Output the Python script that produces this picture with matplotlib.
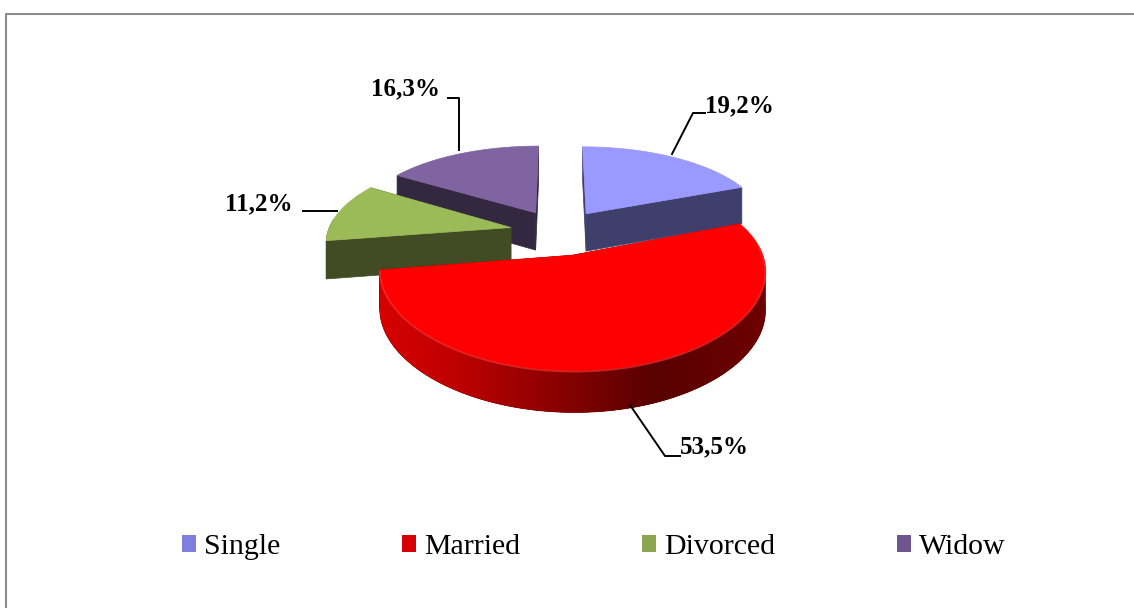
import numpy as np
import matplotlib
matplotlib.use('Agg')
import matplotlib.pyplot as plt
from matplotlib.patches import Polygon, Patch

plt.rcParams['font.family'] = ['Liberation Serif', 'DejaVu Serif']

# data
categories = ['Single', 'Married', 'Divorced', 'Widow']
values = [19.2, 53.5, 11.2, 16.3]
top_colors = ['#9999FF', '#FF0000', '#9BBB59', '#8064A2']
wall_colors = ['#3F3F6B', '#6A0000', '#424C24', '#33283F']
legend_colors = ['#8080DC', '#D80008', '#8CA650', '#6F558F']

# pie geometry, in pixels of the picture
cx, cy = 559, 232
rx, ry = 183, 85
persp_x, persp_y = 0.15, 0.18
explode = 0.27
height = 38


def project(u, v):
    return cx + rx * u / (1 + persp_x * v), cy - ry * v / (1 + persp_y * v)


def wall_height(v):
    return height - 3 * v


def red_shade(x):
    r = np.interp(x, [375, 460, 560, 660, 770], [216, 190, 140, 88, 110])
    return (r / 255, 0, 0)


fig = plt.figure(figsize=(11.34, 6.08), dpi=100)
ax = fig.add_axes([0, 0, 1, 1])
ax.set_xlim(0, 1134)
ax.set_ylim(608, 0)
ax.axis('off')

# frame, only top and left are in the picture
ax.plot([6, 6, 1134], [608, 14, 14], color='#8C8C8C', lw=1.5)

fractions = np.array(values) / sum(values)
ends = np.cumsum(fractions) * 2 * np.pi
starts = ends - fractions * 2 * np.pi

# back to front
for i in [3, 0, 2, 1]:
    mid = (starts[i] + ends[i]) / 2
    ou, ov = explode * np.sin(mid), explode * np.cos(mid)
    th = np.linspace(starts[i], ends[i], 160)
    us = ou + np.sin(th)
    vs = ov + np.cos(th)
    x, y = project(us, vs)
    x0, y0 = project(ou, ov)

    # radial walls
    for k in [0, -1]:
        quad = [(x0, y0), (x[k], y[k]), (x[k], y[k] + wall_height(vs[k])),
                (x0, y0 + wall_height(ov))]
        ax.add_patch(Polygon(quad, fc=wall_colors[i], ec=wall_colors[i], lw=0.5))

    # rim, only the part turned towards us
    front = np.cos(th) <= 0.1
    if front.any():
        rim = [(a, b) for a, b, f in zip(x, y, front) if f]
        rim += [(a, b + wall_height(c)) for a, b, c, f in zip(x, y, vs, front) if f][::-1]
        ax.add_patch(Polygon(rim, fc=wall_colors[i], ec=wall_colors[i], lw=0.5))
    if i == 1:
        # shaded rim of the big slice, strips overlap to the right so no seams show
        for j in range(len(th) - 3, -1, -1):
            if not front[j]:
                continue
            c = red_shade(x[j])
            quad = [(x[j], y[j]), (x[j + 2], y[j + 2]),
                    (x[j + 2], y[j + 2] + wall_height(vs[j + 2])),
                    (x[j], y[j] + wall_height(vs[j]))]
            ax.add_patch(Polygon(quad, fc=c, ec='none', antialiased=True))

    # top face
    pts = [(x0, y0)] + list(zip(x, y))
    ax.add_patch(Polygon(pts, fc=top_colors[i], ec=top_colors[i], lw=0.5))
    if i == 1:
        # small bevel along the front edge
        ax.plot(x[front], y[front] + 1, color='#FF3C3C', lw=1.2, alpha=0.6)

# data labels with leader lines
labels = [f'{v:.1f}'.replace('.', ',') + '%' for v in values]
label_pos = [(705, 106), (680, 447), (225, 204), (371, 89)]
leaders = [([672, 693, 705], [154, 113, 113]),
           ([630, 665, 680], [405, 456, 456]),
           ([337, 303], [211, 211]),
           ([459, 459, 448], [150, 98, 98])]
for lab, pos, ln in zip(labels, label_pos, leaders):
    ax.plot(ln[0], ln[1], color='black', lw=1.4)
    ax.text(pos[0], pos[1], lab, fontsize=18.0, fontweight='bold', ha='left', va='center')

handles = [Patch(fc=c, ec='none') for c in legend_colors]
ax.legend(handles, categories, ncol=4, loc='center', bbox_to_anchor=(594 / 1134, 1 - 547 / 608),
          frameon=False, fontsize=21.5, handlelength=0.47, handleheight=0.47,
          handletextpad=0.27, columnspacing=4.08, borderpad=0, borderaxespad=0)

plt.savefig('out.png', dpi=100)
